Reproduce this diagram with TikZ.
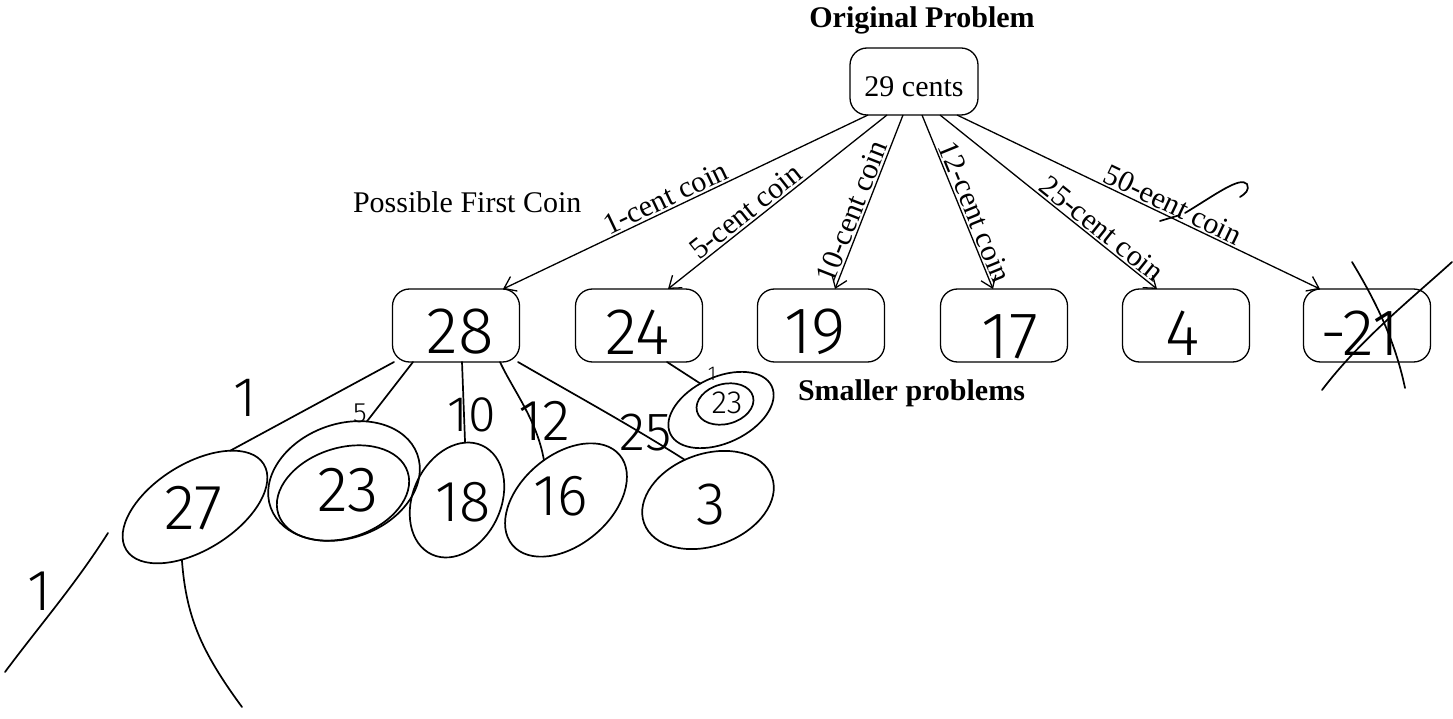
\documentclass[tikz,border=0pt]{standalone}
\usepackage{fontspec}
\setmainfont{Liberation Serif}
\newfontfamily\handfont{Fira Sans Light}
\usetikzlibrary{arrows.meta,shapes.geometric,calc}
\begin{document}
\begin{tikzpicture}[x=1pt,y=-1pt,
  every node/.style={inner sep=0pt, outer sep=0pt},
  lbl/.style={font=\fontsize{30}{35}\selectfont},
  ttl/.style={font=\bfseries\fontsize{30}{35}\selectfont},
  rbox/.style={draw, line width=1.3pt, rounded corners=17pt, minimum width=127pt, minimum height=73pt},
  arr/.style={line width=1.3pt, -{Straight Barb[length=11pt,width=16pt,line width=1.3pt]}},
  coin/.style={lbl, sloped, above, inner sep=2.5pt},
  ink/.style={line width=1.7pt, line cap=round, line join=round},
  hand/.style={font=\handfont\fontsize{#1}{#1}\selectfont},
  hell/.style={ellipse, draw, ink}
]
\path[use as bounding box, fill=white] (0,0) rectangle (1453,719);

% printed part
\node[ttl, anchor=base] (title) at (922,28) {Original Problem};
\node[rbox, lbl, minimum width=128pt, minimum height=67pt, text height=31pt, text depth=0pt] (top) at (914,81.5) {29 cents};
\node[lbl, anchor=base west] (pfc) at (353,213) {Possible First Coin};
\node[ttl, anchor=base west] (sp) at (798,400) {Smaller problems};

\node[rbox] (b28) at (456,325.5) {};
\node[rbox] (b24) at (639,325.5) {};
\node[rbox] (b19) at (821,325.5) {};
\node[rbox] (b17) at (1004,325.5) {};
\node[rbox] (b4)  at (1186,325.5) {};
\node[rbox] (b21) at (1367,325.5) {};

\draw[arr] ([xshift=-46pt]top.south) -- node[coin,pos=0.54]{1-cent coin} ([xshift=47pt]b28.north);
\draw[arr] ([xshift=-27pt]top.south) -- node[coin,pos=0.61]{5-cent coin} ([xshift=29pt]b24.north);
\draw[arr] ([xshift=-11pt]top.south) -- node[coin,pos=0.58]{10-cent coin} ([xshift=14pt]b19.north);
\draw[arr] ([xshift=8pt]top.south) -- node[coin,pos=0.585]{12-cent coin} ([xshift=-11pt]b17.north);
\draw[arr] ([xshift=26pt]top.south) -- node[coin,pos=0.71]{25-cent coin} ([xshift=-29pt]b4.north);
\draw[arr] ([xshift=43pt]top.south) -- node[coin,pos=0.58]{50-eent coin} ([xshift=-47pt]b21.north);

% handwritten numbers in boxes
\node[hand=66] (n28) at (460,332) {28};
\node[hand=66] (n24) at (638,332) {24};
\node[hand=66] (n19) at (815,332) {19};
\node[hand=66] (n17) at (1010,337) {17};
\node[hand=66] (n4)  at (1183,333) {4};
\node[hand=66] (n21) at (1360,333) {-21};

% cross over -21 and scribble on 50-cent label
\draw[ink] (1352,262) .. controls (1375,300) and (1395,340) .. (1405,388);
\draw[ink] (1452,262) .. controls (1410,300) and (1360,340) .. (1322,390);
\draw[ink] (1160,221) -- (1180,215);
\draw[ink] (1185,213) .. controls (1215,195) and (1240,176) .. (1247,184) .. controls (1250,190) and (1245,194) .. (1240,197);

% handwritten subtree
\node[hell, rotate=32, minimum width=162pt, minimum height=86pt] (e27) at (195,507) {};
\node[hand=64] (t27) at (193,508) {27};
\node[hell, rotate=20, minimum width=156pt, minimum height=114pt] (e23o) at (344,481) {};
\node[hell, rotate=18, minimum width=136pt, minimum height=90pt] (e23i) at (343,493) {};
\node[hand=64] (t23) at (348,490) {23};
\node[hell, rotate=65, minimum width=120pt, minimum height=88pt] (e18) at (457,500) {};
\node[hand=58] (t18) at (463,502) {18};
\node[hell, rotate=40, minimum width=140pt, minimum height=90pt] (e16) at (566,500) {};
\node[hand=58] (t16) at (561,496) {16};
\node[hell, rotate=20, minimum width=136pt, minimum height=92pt] (e3) at (708,500) {};
\node[hand=60] (t3) at (711,505) {3};
\node[hell, rotate=25, minimum width=112pt, minimum height=66pt] (e23s) at (721,410) {};
\node[hell, rotate=15, minimum width=58pt, minimum height=40pt] (e23t) at (725,404) {};
\node[hand=32] (t23s) at (727,403) {23};

\draw[ink] ([xshift=-62pt]b28.south) -- (e27.26);
\draw[ink] ([xshift=-43pt]b28.south) -- (e23o.49);
\draw[ink] ([xshift=6pt]b28.south) -- (e18.17);
\draw[ink] ([xshift=44pt]b28.south) .. controls (513,390) and (537,420) .. (e16.79);
\draw[ink] ([xshift=62pt]b28.south) .. controls (575,395) and (630,425) .. (e3.100);
\draw[ink] ([xshift=28pt]b24.south) -- (e23s.103);

\coordinate (c27end) at (242,707);
\draw[ink] (e27.224) .. controls (186,615) and (200,650) .. (c27end);
\coordinate (cl1) at (108,533);
\coordinate (cl2) at (5,672);
\draw[ink] (cl1) .. controls (75,585) and (40,625) .. (cl2);

% handwritten edge labels
\node[hand=56] (l1) at (245,398) {1};
\node[hand=28] (l5) at (360,413) {5};
\node[hand=50] (l10) at (472,415) {10};
\node[hand=58] (l12) at (544,421) {12};
\node[hand=54] (l25) at (646,433) {25};
\node[hand=20] (l1s) at (712,374) {1};
\node[hand=58] (l1b) at (39,591) {1};
\end{tikzpicture}
\end{document}
